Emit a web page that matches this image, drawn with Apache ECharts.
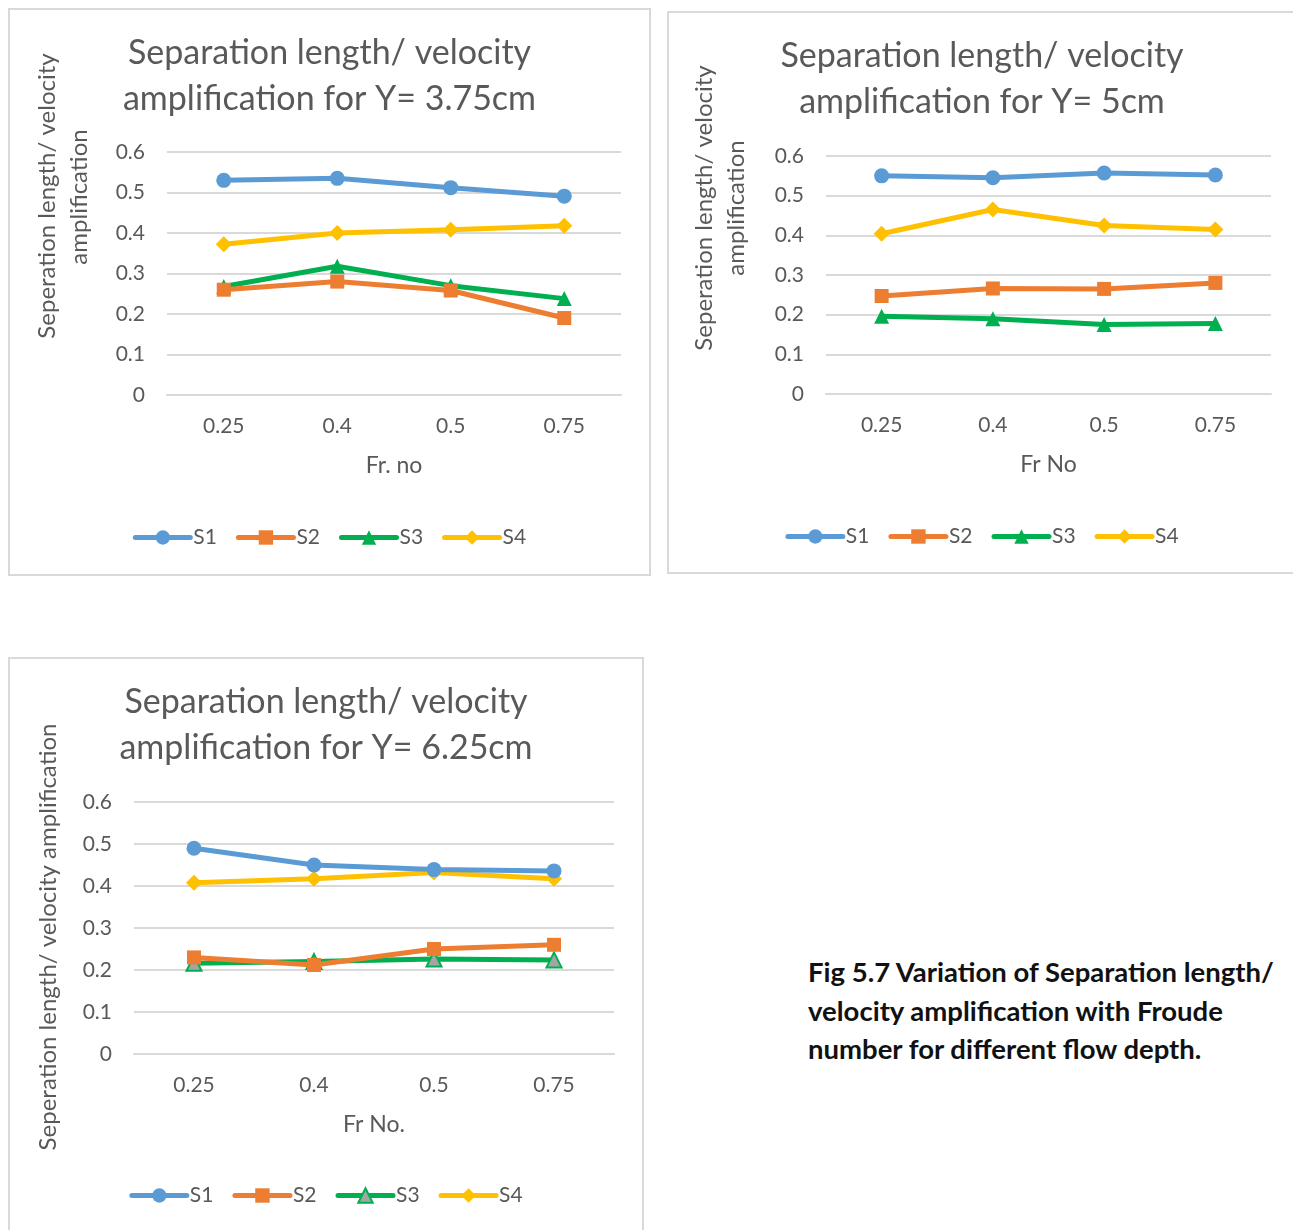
<!DOCTYPE html>
<html>
<head>
<meta charset="utf-8">
<script src="https://cdn.jsdelivr.net/npm/echarts@6/dist/echarts.min.js"></script>
<style>
  html, body { margin: 0; padding: 0; background: #ffffff; }
  body { width: 1293px; height: 1230px; position: relative; overflow: hidden; }
  .panel { position: absolute; box-sizing: border-box; border: 2px solid #d9d9d9; background: #fff; }
  .panel > div { width: 100%; height: 100%; }
  #caption {
    position: absolute; left: 808px; top: 953px;
    font-family: Lato, "Open Sans", sans-serif; font-weight: bold;
    font-size: 27.5px; line-height: 38.5px; color: #111111; white-space: nowrap;
  }
</style>
</head>
<body>
<div class="panel" id="p1" style="left:8px; top:8px; width:643px; height:568px;"><div id="c1"></div></div>
<div class="panel" id="p2" style="left:667px; top:11px; width:630px; height:563px;"><div id="c2"></div></div>
<div class="panel" id="p3" style="left:8px; top:657px; width:636px; height:580px;"><div id="c3"></div></div>
<div id="caption">Fig 5.7 Variation of Separation length/<br>velocity amplification with Froude<br>number for different flow depth.</div>
<script>
// Froude numbers on the category axis
const frNumbers = ['0.25', '0.4', '0.5', '0.75'];
const seriesNames = ['S1', 'S2', 'S3', 'S4'];
const yTicks = [0, 0.1, 0.2, 0.3, 0.4, 0.5, 0.6];

// Flow depth Y = 3.75 cm
const s1_375 = [0.530, 0.535, 0.512, 0.491];
const s2_375 = [0.260, 0.280, 0.258, 0.190];
const s3_375 = [0.268, 0.318, 0.270, 0.238];
const s4_375 = [0.372, 0.400, 0.408, 0.418];

// Flow depth Y = 5 cm
const s1_5 = [0.550, 0.545, 0.557, 0.552];
const s2_5 = [0.247, 0.266, 0.265, 0.280];
const s3_5 = [0.196, 0.190, 0.175, 0.178];
const s4_5 = [0.404, 0.465, 0.425, 0.415];

// Flow depth Y = 6.25 cm
const s1_625 = [0.490, 0.450, 0.439, 0.436];
const s2_625 = [0.230, 0.212, 0.250, 0.260];
const s3_625 = [0.216, 0.220, 0.226, 0.224];
const s4_625 = [0.408, 0.417, 0.432, 0.417];

const FONT = 'Lato, "Open Sans", sans-serif';
const TEXT = '#595959';
const GRID_LINE = '#d9d9d9';

const lineColors = ['#5b9bd5', '#ed7d31', '#00b050', '#ffc000'];
const symbols = ['circle', 'rect', 'triangle', 'diamond'];
const symbolSizes = [15, 14, 15, 16];

function buildChart(elId, cfg) {
  const chart = echarts.init(document.getElementById(elId), null, { renderer: 'canvas' });
  const series = cfg.data.map((vals, i) => {
    const itemStyle = { color: lineColors[i], borderWidth: 0 };
    if (cfg.markerOverride && cfg.markerOverride[i]) Object.assign(itemStyle, cfg.markerOverride[i]);
    return {
      name: seriesNames[i],
      type: 'line',
      data: vals,
      symbol: symbols[i],
      symbolSize: symbolSizes[i],
      showAllSymbol: true,
      lineStyle: { color: lineColors[i], width: 5, join: 'round', cap: 'round' },
      itemStyle: itemStyle,
      z: 10 - i
    };
  });
  const yNameGraphics = cfg.yNames.map(n => ({
    type: 'text',
    x: n.x, y: n.y,
    rotation: Math.PI / 2,
    style: {
      text: n.text, fill: TEXT,
      font: '24px ' + FONT,
      align: 'center', verticalAlign: 'middle'
    }
  }));
  chart.setOption({
    animation: false,
    title: {
      text: cfg.title,
      left: 'center',
      top: cfg.titleTop,
      textStyle: { color: TEXT, fontFamily: FONT, fontWeight: 'normal', fontSize: 34, lineHeight: 46 }
    },
    legend: {
      data: seriesNames,
      left: 'center',
      top: cfg.legendTop,
      itemWidth: 55,
      itemHeight: 18,
      itemGap: 19,
      lineStyle: { width: 5 },
      textStyle: { color: TEXT, fontFamily: FONT, fontSize: 21, padding: [0, 0, 0, -2] }
    },
    grid: cfg.grid,
    xAxis: {
      type: 'category',
      data: frNumbers,
      boundaryGap: true,
      name: cfg.xName,
      nameLocation: 'middle',
      nameGap: 59,
      nameTextStyle: { color: TEXT, fontFamily: FONT, fontSize: 23 },
      axisLine: { lineStyle: { color: GRID_LINE, width: 2 } },
      axisTick: { show: false },
      axisLabel: { color: TEXT, fontFamily: FONT, fontSize: 21, margin: 21 }
    },
    yAxis: {
      type: 'value',
      min: yTicks[0],
      max: yTicks[yTicks.length - 1],
      interval: 0.1,
      axisLine: { show: false },
      axisTick: { show: false },
      splitLine: { lineStyle: { color: GRID_LINE, width: 2 } },
      axisLabel: { color: TEXT, fontFamily: FONT, fontSize: 21, margin: 22 }
    },
    graphic: yNameGraphics,
    series: series
  });
  return chart;
}

buildChart('c1', {
  title: 'Separation length/ velocity\namplification for Y= 3.75cm',
  titleTop: 15,
  grid: { left: 157, top: 142, width: 454, height: 243 },
  xName: 'Fr. no',
  legendTop: 512,
  yNames: [
    { text: 'Seperation length/ velocity', x: 37, y: 186 },
    { text: 'amplification', x: 69, y: 187 }
  ],
  data: [s1_375, s2_375, s3_375, s4_375]
});

buildChart('c2', {
  title: 'Separation length/ velocity\namplification for Y= 5cm',
  titleTop: 15,
  grid: { left: 157, top: 143, width: 445, height: 238 },
  xName: 'Fr No',
  legendTop: 508,
  yNames: [
    { text: 'Seperation length/ velocity', x: 35, y: 195 },
    { text: 'amplification', x: 67, y: 195 }
  ],
  data: [s1_5, s2_5, s3_5, s4_5]
});

buildChart('c3', {
  title: 'Separation length/ velocity\namplification for Y= 6.25cm',
  titleTop: 15,
  grid: { left: 124, top: 143, width: 480, height: 252 },
  xName: 'Fr No.',
  legendTop: 521,
  yNames: [
    { text: 'Seperation length/ velocity amplification', x: 38, y: 278 }
  ],
  data: [s1_625, s2_625, s3_625, s4_625],
  markerOverride: [null, null, { color: '#a5a5a5', borderColor: '#00b050', borderWidth: 2 }, null]
});
</script>
</body>
</html>
